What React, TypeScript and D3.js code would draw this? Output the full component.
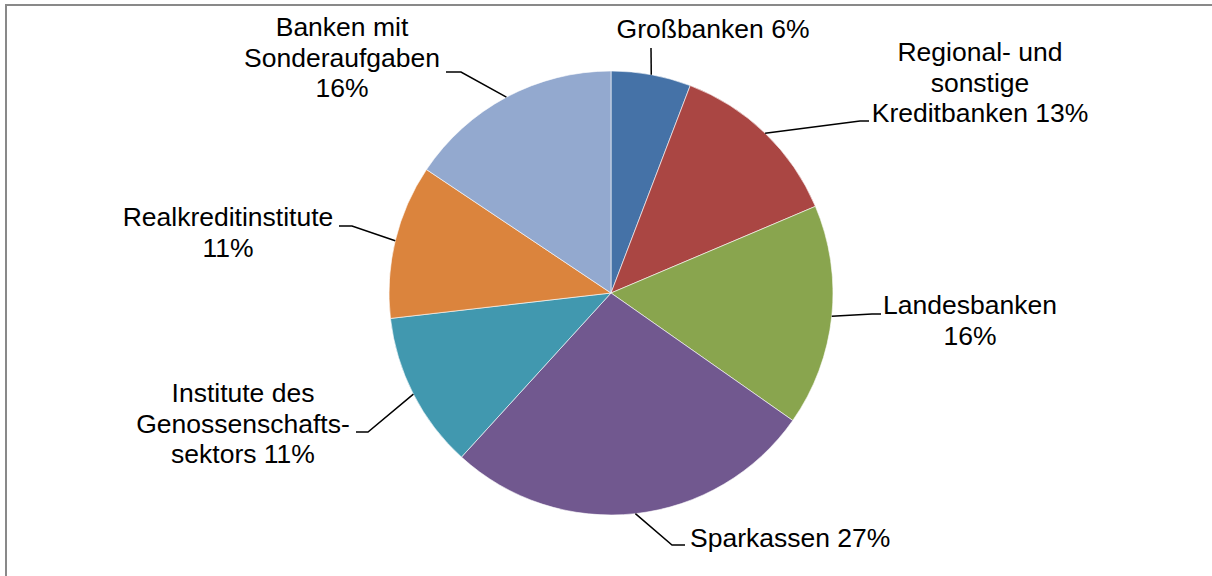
import { useEffect } from 'react';
import * as d3 from 'd3';

// Anteile der Bankengruppen
const categories = [
  'Großbanken',
  'Regional- und sonstige Kreditbanken',
  'Landesbanken',
  'Sparkassen',
  'Institute des Genossenschaftssektors',
  'Realkreditinstitute',
  'Banken mit Sonderaufgaben',
];
const values = [5.8, 12.8, 16.1, 27.0, 11.4, 11.2, 15.6];

// label text, "{p}" is replaced by the rounded percentage
const labelLines = [
  ['Großbanken {p}'],
  ['Regional- und', 'sonstige', 'Kreditbanken {p}'],
  ['Landesbanken', '{p}'],
  ['Sparkassen {p}'],
  ['Institute des', 'Genossenschafts-', 'sektors {p}'],
  ['Realkreditinstitute', '{p}'],
  ['Banken mit', 'Sonderaufgaben', '{p}'],
];

const colors = ['#4572A7', '#AA4643', '#89A54E', '#71588F', '#4198AF', '#DB843D', '#93A9CF'];

// layout: label text position and leader line elbow / end
const labelLayout = [
  { x: 713, y: 38, anchor: 'middle', elbow: [651, 48], end: [651, 48] },
  { x: 980, y: 61, anchor: 'middle', elbow: [860, 121], end: [869, 121] },
  { x: 970, y: 314, anchor: 'middle', elbow: [872, 314], end: [881, 314] },
  { x: 690, y: 547, anchor: 'start', elbow: [672, 545], end: [685, 545] },
  { x: 243, y: 402, anchor: 'middle', elbow: [368, 432], end: [356, 432] },
  { x: 228, y: 226, anchor: 'middle', elbow: [352, 226], end: [339, 226] },
  { x: 342, y: 36, anchor: 'middle', elbow: [461, 72], end: [446, 72] },
];

const WIDTH = 1212;
const HEIGHT = 576;
const CX = 611;
const CY = 293;
const R = 222;
const LINE_H = 30.5;

export default function App() {
  useEffect(() => {
    document.body.style.margin = '0';
  }, []);

  const total = d3.sum(values);
  const pie = d3.pie<number>().sort(null).startAngle(0).endAngle(2 * Math.PI);
  const arcs = pie(values);
  const arc = d3.arc<d3.PieArcDatum<number>>().innerRadius(0).outerRadius(R);
  const pct = (v: number) => `${Math.round((v / total) * 100)}%`;

  return (
    <svg width={WIDTH} height={HEIGHT} style={{ display: 'block', fontFamily: '"Liberation Sans", Arial, sans-serif' }}>
      <rect x={0} y={0} width={WIDTH} height={HEIGHT} fill="#fff" />
      <rect x={6} y={5} width={WIDTH + 20} height={HEIGHT + 20} fill="none" stroke="#898989" strokeWidth={2} />
      <g transform={`translate(${CX},${CY})`}>
        {arcs.map((a, i) => (
          <path key={categories[i]} d={arc(a) || ''} fill={colors[i]} stroke="#ffffff" strokeWidth={0.6} />
        ))}
      </g>
      {arcs.map((a, i) => {
        const mid = (a.startAngle + a.endAngle) / 2;
        const sx = CX + R * Math.sin(mid);
        const sy = CY - R * Math.cos(mid);
        const lay = labelLayout[i];
        const pts = [[sx, sy], lay.elbow, lay.end];
        return (
          <path
            key={'l' + i}
            d={d3.line()(pts as [number, number][]) || ''}
            fill="none"
            stroke="#000"
            strokeWidth={1.5}
          />
        );
      })}
      {labelLines.map((lines, i) => {
        const lay = labelLayout[i];
        return (
          <text key={'t' + i} x={lay.x} y={lay.y} textAnchor={lay.anchor} fontSize={26.5} fill="#000">
            {lines.map((ln, j) => (
              <tspan key={j} x={lay.x} dy={j === 0 ? 0 : LINE_H}>
                {ln.replace('{p}', pct(values[i]))}
              </tspan>
            ))}
          </text>
        );
      })}
    </svg>
  );
}
